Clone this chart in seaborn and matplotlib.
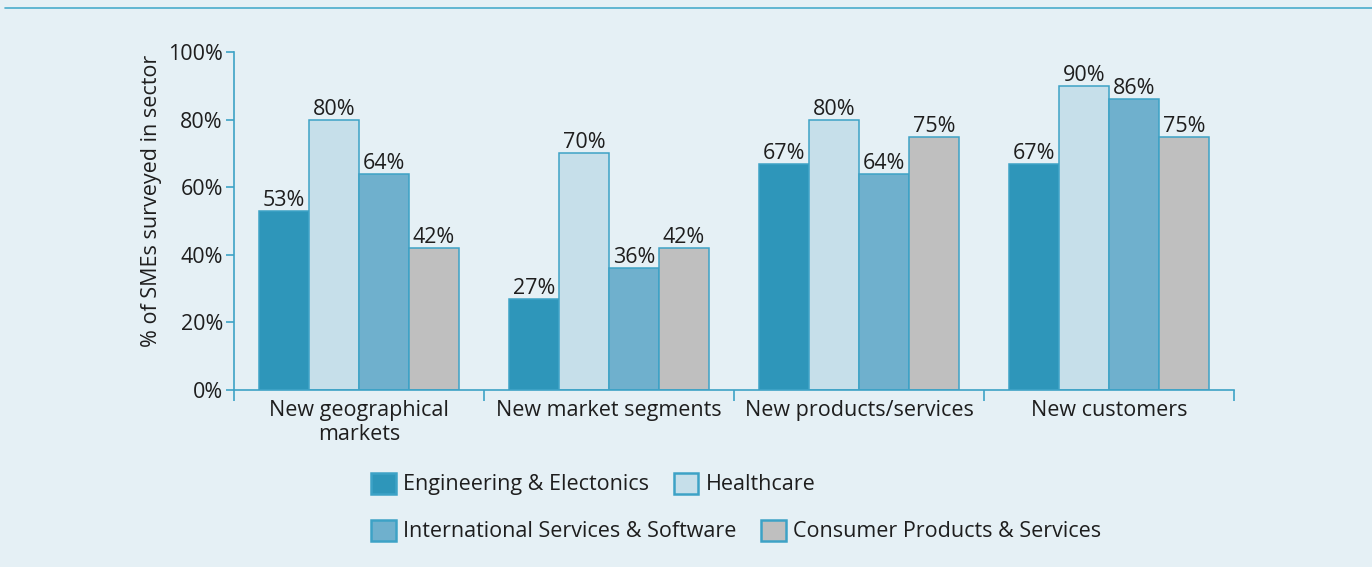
import numpy as np
import pandas as pd
import matplotlib
matplotlib.use('Agg')
import matplotlib.pyplot as plt
import seaborn as sns
from matplotlib.lines import Line2D

categories = ["New geographical\nmarkets", "New market segments",
              "New products/services", "New customers"]
sectors = ["Engineering & Electonics", "Healthcare",
           "International Services & Software", "Consumer Products & Services"]
engineering = [53, 27, 67, 67]
healthcare = [80, 70, 80, 90]
international = [64, 36, 64, 86]
consumer = [42, 42, 75, 75]
yticks = [0, 20, 40, 60, 80, 100]

colors = ["#2E96BA", "#C6DFEA", "#6FB0CD", "#BFBFBF"]
edge = "#3DA2C6"
bg = "#E5F0F5"
text_col = "#1E1E1E"
FS = 15.5

rows = []
for sec, vals in zip(sectors, [engineering, healthcare, international, consumer]):
    for cat, v in zip(categories, vals):
        rows.append({"category": cat, "sector": sec, "value": v})
df = pd.DataFrame(rows)

sns.set_style("white")
plt.rcParams['font.family'] = ['Open Sans', 'DejaVu Sans']
plt.rcParams['font.size'] = FS

fig = plt.figure(figsize=(13.72, 5.67), dpi=100, facecolor=bg)
ax = fig.add_axes([234 / 1372, 1 - 390 / 567, 1000 / 1372, 338 / 567])
ax.set_facecolor(bg)

sns.barplot(data=df, x="category", y="value", hue="sector", hue_order=sectors,
            order=categories, palette=colors, width=0.8, edgecolor=edge,
            linewidth=1.1, saturation=1, ax=ax)

for cont in ax.containers:
    ax.bar_label(cont, labels=[f"{int(v)}%" for v in cont.datavalues],
                 padding=0, fontsize=FS, color=text_col)

ax.set_ylim(0, 100)
ax.set_xlim(-0.5, 3.5)
ax.set_yticks(yticks)
ax.set_yticklabels([f"{t}%" for t in yticks], color=text_col, fontsize=FS)
ax.tick_params(axis="y", direction="out", length=6, width=1.2, color=edge, pad=2, left=True)

# group boundary ticks (major) and centered labels (minor)
ax.set_xticks(np.arange(-0.5, 4, 1.0))
ax.set_xticklabels([])
ax.set_xticks(np.arange(len(categories)), minor=True)
ax.set_xticklabels(categories, minor=True, color=text_col, fontsize=FS)
ax.tick_params(axis="x", which="major", direction="out", length=8, width=1.2, color=edge, bottom=True)
ax.tick_params(axis="x", which="minor", length=0, pad=7)

ax.set_xlabel("")
ax.set_ylabel("% of SMEs surveyed in sector", color=text_col, fontsize=FS)
ax.yaxis.set_label_coords(-0.072, 0.56)

for s in ["top", "right"]:
    ax.spines[s].set_visible(False)
for s in ["left", "bottom"]:
    ax.spines[s].set_color(edge)
    ax.spines[s].set_linewidth(1.2)

handles, labels = ax.get_legend_handles_labels()
ax.get_legend().remove()
for i, yc in enumerate([484, 531]):
    lg = fig.legend(handles[2 * i:2 * i + 2], labels[2 * i:2 * i + 2], ncol=2,
                    loc="center left", bbox_to_anchor=(371 / 1372, 1 - yc / 567),
                    frameon=False, borderpad=0, borderaxespad=0, fontsize=FS,
                    handlelength=1.15, handleheight=1.15, handletextpad=0.33,
                    columnspacing=1.15, labelcolor=text_col)
    for h in lg.legend_handles:
        h.set_edgecolor(edge)
        h.set_linewidth(1.8)

fig.add_artist(Line2D([5 / 1372, 1], [1 - 8 / 567, 1 - 8 / 567], color="#4AACCB",
                      linewidth=1.2, transform=fig.transFigure))

fig.savefig("out.png", dpi=100, facecolor=bg)
